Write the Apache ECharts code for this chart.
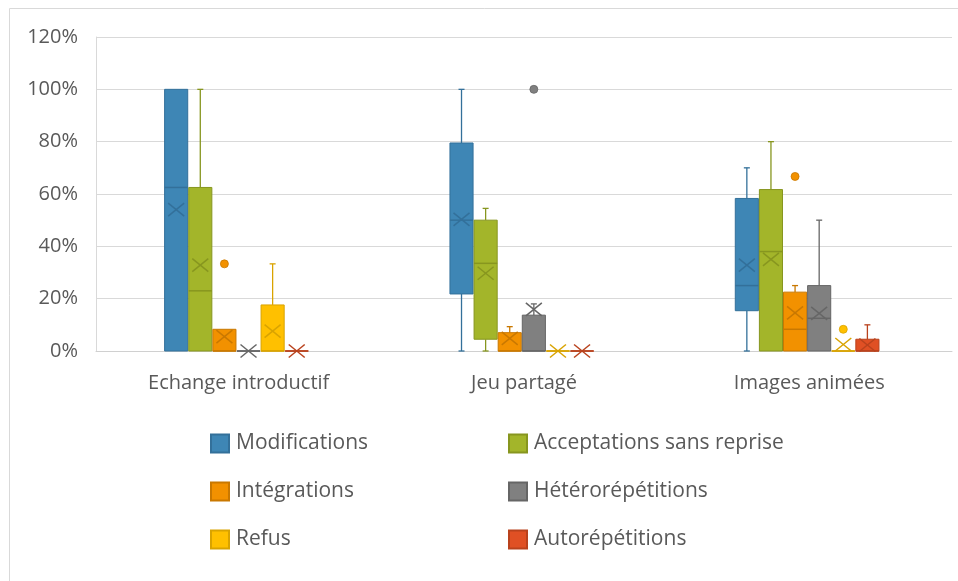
<!DOCTYPE html>
<html>
<head>
<meta charset="utf-8">
<script src="https://cdn.jsdelivr.net/npm/echarts@6/dist/echarts.min.js"></script>
<style>
  html, body { margin: 0; padding: 0; background: #fff; }
  #main { width: 958px; height: 581px; }
</style>
</head>
<body>
<div id="main"></div>
<script>
const categories = ['Echange introductif', 'Jeu partagé', 'Images animées'];
const seriesNames = ['Modifications', 'Acceptations sans reprise', 'Intégrations', 'Hétérorépétitions', 'Refus', 'Autorépétitions'];
const yTicks = [0, 20, 40, 60, 80, 100, 120];

// [min, Q1, median, Q3, max] per category (in %)
const modifications = [[0, 0, 62.5, 100, 100], [0, 21.8, 50, 79.5, 100], [0, 15.4, 25, 58.3, 70]];
const acceptations = [[0, 0, 23, 62.5, 100], [0, 4.5, 33.5, 50, 54.5], [0, 0, 38, 61.7, 80]];
const integrations = [[0, 0, 0, 8.3, 8.3], [0, 0, 0, 7, 9.3], [0, 0, 8.3, 22.5, 25]];
const heterorepetitions = [[0, 0, 0, 0, 0], [0, 0, 0, 13.7, 18], [0, 0, 12.5, 25, 50]];
const refus = [[0, 0, 0, 17.6, 33.3], [0, 0, 0, 0, 0], [0, 0, 0, 0, 0]];
const autorepetitions = [[0, 0, 0, 0, 0], [0, 0, 0, 0, 0], [0, 0, 0, 4.5, 10]];

// means (the X markers)
const modificationsMean = [54, 50.3, 32.8];
const acceptationsMean = [32.8, 29.7, 35];
const integrationsMean = [5.5, 4.8, 14.6];
const heterorepetitionsMean = [0, 15.9, 14.4];
const refusMean = [7.6, 0, 2.5];
const autorepetitionsMean = [0, 0, 2.3];

// outliers (dots)
const modificationsOut = [[], [], []];
const acceptationsOut = [[], [], []];
const integrationsOut = [[33.3], [], [66.7]];
const heterorepetitionsOut = [[], [100], []];
const refusOut = [[], [], [8.3]];
const autorepetitionsOut = [[], [], []];

const boxes = [modifications, acceptations, integrations, heterorepetitions, refus, autorepetitions];
const means = [modificationsMean, acceptationsMean, integrationsMean, heterorepetitionsMean, refusMean, autorepetitionsMean];
const outliers = [modificationsOut, acceptationsOut, integrationsOut, heterorepetitionsOut, refusOut, autorepetitionsOut];

const fills = ['#3e86b5', '#a3b52a', '#f29100', '#808080', '#ffc000', '#e05024'];
const strokes = ['#33709a', '#87961f', '#c97800', '#666666', '#d9a300', '#b9421d'];

function makeRender(s) {
  return function (params, api) {
    const ci = api.value(0);
    const band = api.size([1, 0])[0];
    const slot = band * 0.0845;
    const boxW = slot - 1;
    const cx = api.coord([ci, 0])[0] - band * 0.219 + slot * s;
    const y = v => api.coord([ci, v])[1];
    const [mn, q1, md, q3, mx] = [api.value(1), api.value(2), api.value(3), api.value(4), api.value(5)];
    const mean = api.value(6);
    const fill = fills[s], stroke = strokes[s];
    const line = { stroke: stroke, lineWidth: 1.3 };
    const kids = [];
    if (mx > q3) {
      kids.push({ type: 'line', shape: { x1: cx, y1: y(q3), x2: cx, y2: y(mx) }, style: line });
      kids.push({ type: 'line', shape: { x1: cx - 3, y1: y(mx), x2: cx + 3, y2: y(mx) }, style: line });
    }
    if (mn < q1) {
      kids.push({ type: 'line', shape: { x1: cx, y1: y(q1), x2: cx, y2: y(mn) }, style: line });
      kids.push({ type: 'line', shape: { x1: cx - 3, y1: y(mn), x2: cx + 3, y2: y(mn) }, style: line });
    }
    kids.push({
      type: 'rect',
      shape: { x: cx - boxW / 2, y: y(q3), width: boxW, height: Math.max(y(q1) - y(q3), 0) },
      style: { fill: fill, stroke: stroke, lineWidth: 1 }
    });
    kids.push({ type: 'line', shape: { x1: cx - boxW / 2, y1: y(md), x2: cx + boxW / 2, y2: y(md) }, style: { stroke: stroke, lineWidth: 1.5 } });
    const ym = y(mean), hw = 8, hh = 6.5;
    kids.push({ type: 'line', shape: { x1: cx - hw, y1: ym - hh, x2: cx + hw, y2: ym + hh }, style: { stroke: stroke, lineWidth: 1.5 } });
    kids.push({ type: 'line', shape: { x1: cx - hw, y1: ym + hh, x2: cx + hw, y2: ym - hh }, style: { stroke: stroke, lineWidth: 1.5 } });
    outliers[s][ci].forEach(v => {
      kids.push({ type: 'circle', shape: { cx: cx, cy: y(v), r: 4 }, style: { fill: fill, stroke: stroke, lineWidth: 0.8 } });
    });
    return { type: 'group', children: kids };
  };
}

const series = seriesNames.map((name, s) => ({
  name: name,
  type: 'custom',
  renderItem: makeRender(s),
  itemStyle: { color: fills[s], borderColor: strokes[s], borderWidth: 1 },
  encode: { x: 0, y: [1, 2, 3, 4, 5, 6] },
  data: categories.map((c, ci) => [ci].concat(boxes[s][ci], [means[s][ci]]))
}));

const chart = echarts.init(document.getElementById('main'));
const font = 'Open Sans';
const legendText = { fontSize: 21, color: '#595959', fontFamily: font, padding: [0, 0, 0, 2] };
chart.setOption({
  animation: false,
  textStyle: { fontFamily: font },
  graphic: [{
    type: 'rect', silent: true,
    shape: { x: 9.5, y: 8.5, width: 2000, height: 2000 },
    style: { fill: null, stroke: '#d9d9d9', lineWidth: 1 }
  }],
  grid: { left: 96, right: 6, top: 37, bottom: 230 },
  legend: [{
    data: ['Modifications', 'Intégrations', 'Refus'],
    orient: 'vertical', left: 205, top: 428,
    icon: 'rect', itemWidth: 18, itemHeight: 18, itemGap: 27,
    textStyle: legendText
  }, {
    data: ['Acceptations sans reprise', 'Hétérorépétitions', 'Autorépétitions'],
    orient: 'vertical', left: 503, top: 428,
    icon: 'rect', itemWidth: 18, itemHeight: 18, itemGap: 27,
    textStyle: legendText
  }],
  xAxis: {
    type: 'category',
    data: categories,
    axisTick: { show: false },
    axisLine: { lineStyle: { color: '#d0d0d0' } },
    axisLabel: { fontSize: 20, color: '#595959', margin: 22, fontFamily: font }
  },
  yAxis: {
    type: 'value',
    min: yTicks[0], max: yTicks[yTicks.length - 1], interval: 20,
    axisLine: { show: true, lineStyle: { color: '#d9d9d9' } },
    axisTick: { show: false },
    splitLine: { lineStyle: { color: '#d9d9d9' } },
    axisLabel: { fontSize: 20, color: '#595959', margin: 18, fontFamily: font, formatter: '{value}%' }
  },
  series: series
});
</script>
</body>
</html>
